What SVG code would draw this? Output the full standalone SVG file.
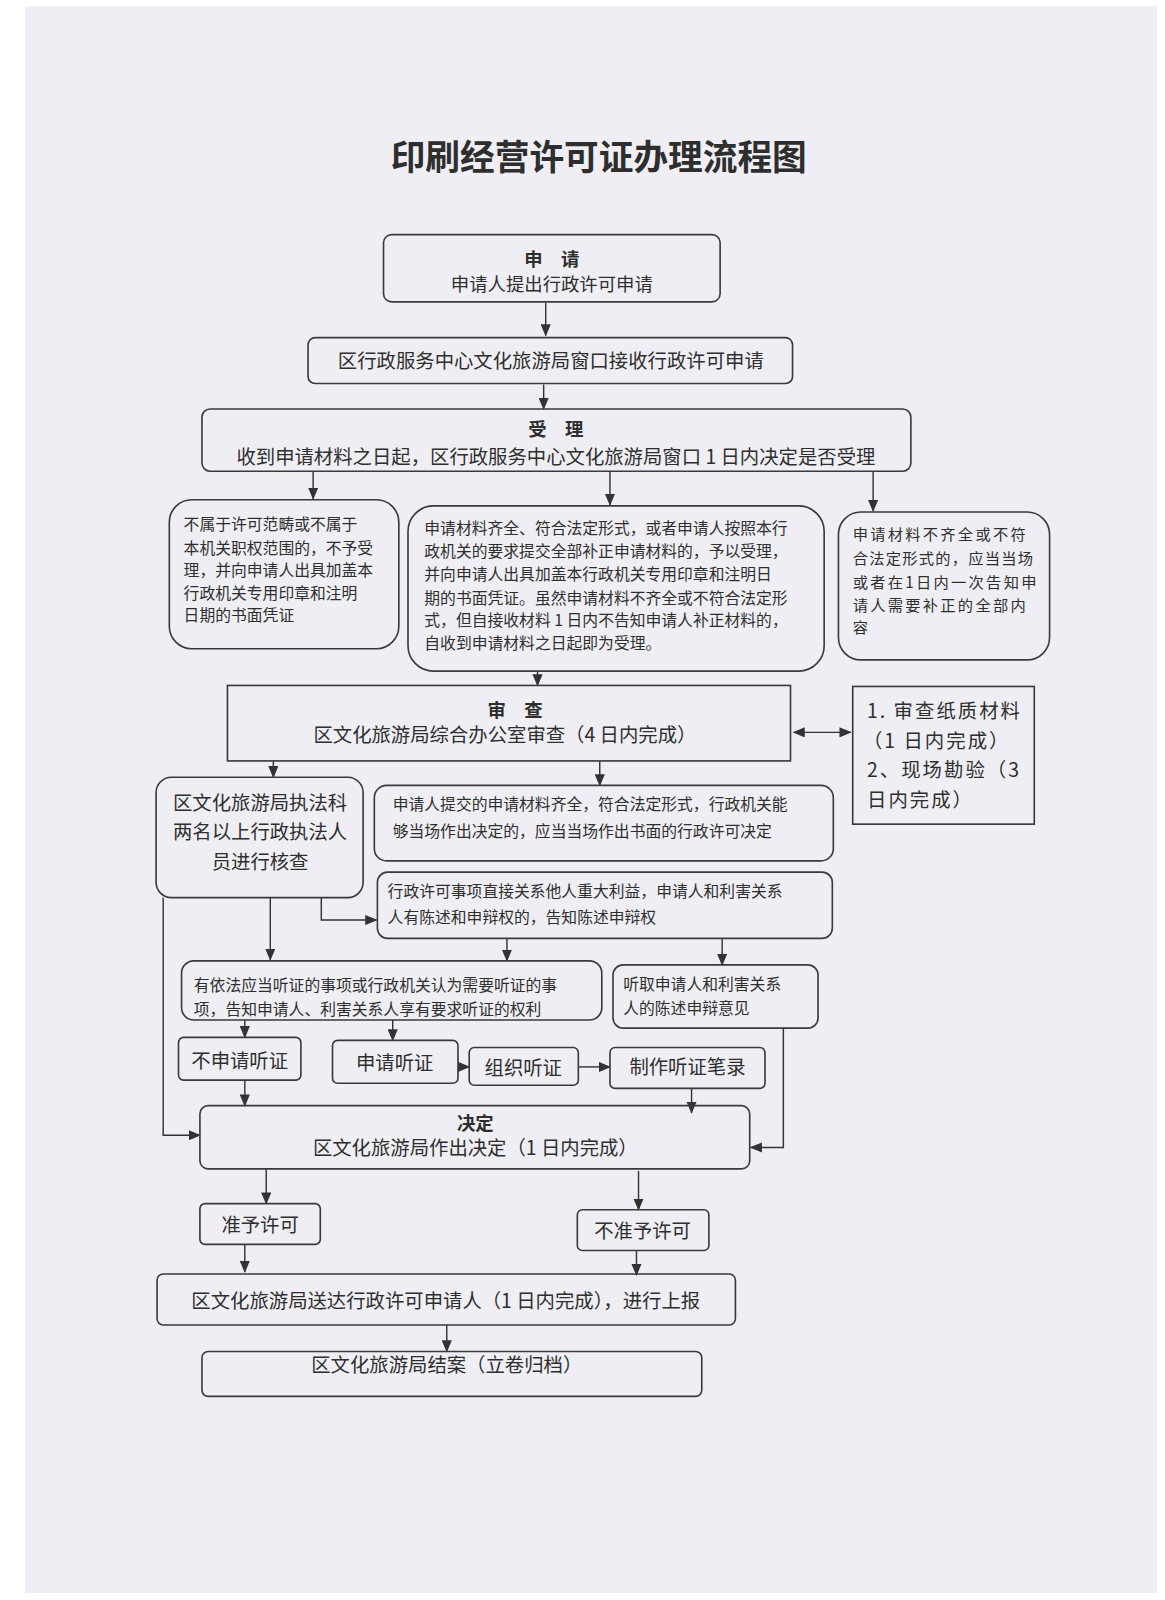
<svg xmlns="http://www.w3.org/2000/svg" width="1165" height="1600" viewBox="0 0 1165 1600">
<defs>
<marker id="ah" markerUnits="userSpaceOnUse" markerWidth="12" markerHeight="10" refX="11" refY="5" orient="auto">
<path d="M0,0 L12,5 L0,10 Z" fill="#333"/>
</marker>
<marker id="ahs" markerUnits="userSpaceOnUse" markerWidth="12" markerHeight="10" refX="1" refY="5" orient="auto">
<path d="M12,0 L0,5 L12,10 Z" fill="#333"/>
</marker>
<style>
.b{fill:none;stroke:#3a3a3a;stroke-width:1.6}
.c{fill:none;stroke:#333;stroke-width:1.4;marker-end:url(#ah)}
.l{fill:none;stroke:#333;stroke-width:1.4}
text{font-family:"Noto Sans CJK SC","Noto Sans CJK JP",sans-serif;fill:#2e2e2e}
.t{font-size:18px;text-anchor:middle}
.h{font-size:18px;text-anchor:middle;font-weight:bold}
.s{font-size:15.5px}
.m{font-size:19px;text-anchor:middle}
</style>
</defs>
<rect x="0" y="0" width="1165" height="1600" fill="#ffffff"/>
<rect x="25" y="6" width="1132" height="1587" fill="#efeef4"/>

<g transform="scale(1.02)">
<text x="587" y="167" style="font-size:34px;font-weight:bold;text-anchor:middle;font-family:'Noto Sans CJK SC',serif">印刷经营许可证办理流程图</text>

<g id="connectors">
<line class="c" x1="535" y1="297" x2="535" y2="329"/>
<line class="c" x1="533" y1="377" x2="533" y2="401"/>
<line class="c" x1="307" y1="462" x2="307" y2="489"/>
<line class="c" x1="598" y1="462" x2="598" y2="495"/>
<line class="c" x1="856" y1="462" x2="856" y2="501"/>
<line class="c" x1="527" y1="658" x2="527" y2="672"/>
<line class="l" x1="778" y1="718" x2="834" y2="718" style="marker-end:url(#ah);marker-start:url(#ahs)"/>
<line class="c" x1="268" y1="746" x2="268" y2="762"/>
<line class="c" x1="588" y1="746" x2="588" y2="770"/>
<polyline class="c" points="315,880 315,902 369,902"/>
<line class="c" x1="265" y1="880" x2="265" y2="941"/>
<polyline class="c" points="160,880 160,1113 196,1113"/>
<line class="c" x1="497" y1="920" x2="497" y2="942"/>
<line class="c" x1="708" y1="920" x2="708" y2="946"/>
<line class="c" x1="240" y1="1000" x2="240" y2="1017"/>
<line class="c" x1="385" y1="1000" x2="385" y2="1020"/>
<line class="c" x1="449" y1="1046" x2="460" y2="1046"/>
<line class="c" x1="567" y1="1046" x2="598" y2="1046"/>
<line class="c" x1="240" y1="1059" x2="240" y2="1084"/>
<line class="c" x1="678" y1="1067" x2="678" y2="1091"/>
<polyline class="c" points="768,1008 768,1125 736,1125"/>
<line class="c" x1="261" y1="1146" x2="261" y2="1180"/>
<line class="c" x1="626" y1="1148" x2="626" y2="1186"/>
<line class="c" x1="240" y1="1220" x2="240" y2="1247"/>
<line class="c" x1="624" y1="1226" x2="624" y2="1250"/>
<line class="c" x1="438" y1="1299" x2="438" y2="1325"/>
</g>

<g id="n-apply">
<rect class="b" x="376" y="230" width="330" height="66" rx="8"/>
<text class="h" x="541" y="261">申　请</text>
<text class="t" x="541" y="285">申请人提出行政许可申请</text>
</g>

<g id="n-window">
<rect class="b" x="302" y="331" width="475" height="45" rx="7"/>
<text class="m" x="540" y="361">区行政服务中心文化旅游局窗口接收行政许可申请</text>
</g>

<g id="n-accept">
<rect class="b" x="198" y="401" width="695" height="61" rx="8"/>
<text class="h" x="545" y="427">受　理</text>
<text class="m" x="545" y="455">收到申请材料之日起，区行政服务中心文化旅游局窗口 1 日内决定是否受理</text>
</g>

<g id="n-reject">
<rect class="b" x="166" y="490" width="225" height="146" rx="22"/>
<text class="s" x="180" y="520">不属于许可范畴或不属于</text>
<text class="s" x="180" y="543">本机关职权范围的，不予受</text>
<text class="s" x="180" y="565">理，并向申请人出具加盖本</text>
<text class="s" x="180" y="587">行政机关专用印章和注明</text>
<text class="s" x="180" y="609">日期的书面凭证</text>
</g>

<g id="n-accepted">
<rect class="b" x="400" y="496" width="408" height="162" rx="25"/>
<text class="s" x="416" y="524">申请材料齐全、符合法定形式，或者申请人按照本行</text>
<text class="s" x="416" y="546">政机关的要求提交全部补正申请材料的，予以受理，</text>
<text class="s" x="416" y="569">并向申请人出具加盖本行政机关专用印章和注明日</text>
<text class="s" x="416" y="592">期的书面凭证。虽然申请材料不齐全或不符合法定形</text>
<text class="s" x="416" y="614">式，但自接收材料 1 日内不告知申请人补正材料的，</text>
<text class="s" x="416" y="636">自收到申请材料之日起即为受理。</text>
</g>

<g id="n-incomplete">
<rect class="b" x="822" y="502" width="207" height="145" rx="22"/>
<text x="836" y="529" style="font-size:15px" letter-spacing="2.2">申请材料不齐全或不符</text>
<text x="836" y="553" style="font-size:15px" letter-spacing="1.2">合法定形式的，应当当场</text>
<text x="836" y="576" style="font-size:15px" letter-spacing="2.2">或者在1日内一次告知申</text>
<text x="836" y="599" style="font-size:15px" letter-spacing="2.2">请人需要补正的全部内</text>
<text x="836" y="621" style="font-size:15px" letter-spacing="2.2">容</text>
</g>

<g id="n-review">
<rect class="b" x="223" y="672" width="552" height="74"/>
<text class="h" x="505" y="703">审　查</text>
<text class="m" x="495" y="727">区文化旅游局综合办公室审查（4 日内完成）</text>
</g>

<g id="n-review-detail">
<rect class="b" x="836" y="673" width="178" height="135"/>
<text x="850" y="704" style="font-size:19px" letter-spacing="2">1. 审查纸质材料</text>
<text x="846" y="733" style="font-size:19px" letter-spacing="2">（1 日内完成）</text>
<text x="850" y="762" style="font-size:19px" letter-spacing="2">2、现场勘验（3</text>
<text x="850" y="791" style="font-size:19px" letter-spacing="2">日内完成）</text>
</g>

<g id="n-enforce">
<rect class="b" x="153" y="762" width="203" height="118" rx="15"/>
<text class="m" x="255" y="794">区文化旅游局执法科</text>
<text class="m" x="255" y="823">两名以上行政执法人</text>
<text class="m" x="255" y="852">员进行核查</text>
</g>

<g id="n-onsite">
<rect class="b" x="367" y="770" width="450" height="74" rx="12"/>
<text class="s" x="385" y="794">申请人提交的申请材料齐全，符合法定形式，行政机关能</text>
<text class="s" x="385" y="821">够当场作出决定的，应当当场作出书面的行政许可决定</text>
</g>

<g id="n-interest">
<rect class="b" x="370" y="855" width="446" height="65" rx="10"/>
<text class="s" x="380" y="879">行政许可事项直接关系他人重大利益，申请人和利害关系</text>
<text class="s" x="380" y="905">人有陈述和申辩权的，告知陈述申辩权</text>
</g>

<g id="n-hearing-notice">
<rect class="b" x="178" y="942" width="412" height="58" rx="12"/>
<text class="s" x="190" y="972">有依法应当听证的事项或行政机关认为需要听证的事</text>
<text class="s" x="190" y="995">项，告知申请人、利害关系人享有要求听证的权利</text>
</g>

<g id="n-listen">
<rect class="b" x="601" y="946" width="201" height="62" rx="10"/>
<text class="s" x="611" y="971">听取申请人和利害关系</text>
<text class="s" x="611" y="994">人的陈述申辩意见</text>
</g>

<g id="n-no-hearing">
<rect class="b" x="175" y="1017" width="120" height="42" rx="5"/>
<text class="m" x="235" y="1047">不申请听证</text>
</g>

<g id="n-apply-hearing">
<rect class="b" x="326" y="1020" width="123" height="42" rx="5"/>
<text class="m" x="387" y="1049">申请听证</text>
</g>

<g id="n-organize">
<rect class="b" x="460" y="1027" width="107" height="37" rx="5"/>
<text class="m" x="513" y="1054">组织听证</text>
</g>

<g id="n-record">
<rect class="b" x="598" y="1027" width="152" height="40" rx="5"/>
<text class="m" x="674" y="1053">制作听证笔录</text>
</g>

<g id="n-decide">
<rect class="b" x="196" y="1084" width="539" height="62" rx="8"/>
<text class="h" x="466" y="1108">决定</text>
<text class="m" x="466" y="1132">区文化旅游局作出决定（1 日内完成）</text>
</g>

<g id="n-grant">
<rect class="b" x="196" y="1180" width="118" height="40" rx="5"/>
<text class="m" x="255" y="1208">准予许可</text>
</g>

<g id="n-deny">
<rect class="b" x="566" y="1186" width="129" height="40" rx="5"/>
<text class="m" x="630" y="1214">不准予许可</text>
</g>

<g id="n-deliver">
<rect class="b" x="154" y="1249" width="567" height="50" rx="6"/>
<text class="m" x="437" y="1282">区文化旅游局送达行政许可申请人（1 日内完成），进行上报</text>
</g>

<g id="n-close">
<rect class="b" x="198" y="1325" width="490" height="44" rx="6"/>
<text class="m" x="438" y="1345">区文化旅游局结案（立卷归档）</text>
</g>
</g>
</svg>
